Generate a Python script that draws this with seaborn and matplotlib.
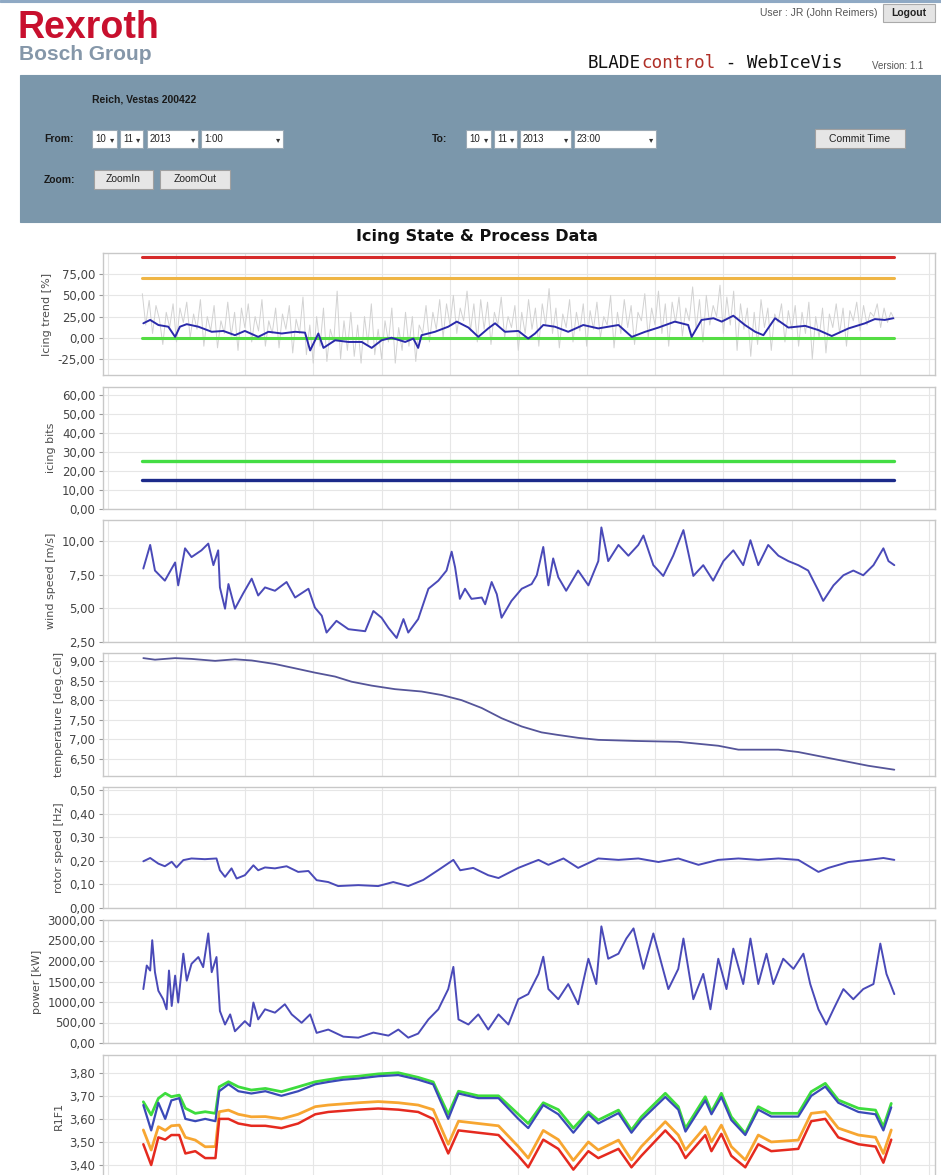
import numpy as np
import matplotlib
matplotlib.use("Agg")
import matplotlib.pyplot as plt
from matplotlib.patches import Rectangle
from matplotlib.ticker import FuncFormatter, MultipleLocator, FixedLocator
import seaborn as sns

# ---------------------------------------------------------------- data
# time in hours of 10.11.2013
ICING_T = [1.03, 1.23, 1.47, 1.76, 1.96, 2.10, 2.30, 2.64, 3.03, 3.37, 3.71, 4.00, 4.39, 4.69,
           5.08, 5.47, 5.76, 5.91, 6.15, 6.30, 6.64, 7.03, 7.42, 7.71, 8.00, 8.29, 8.69, 8.93,
           9.07, 9.17, 9.56, 9.95, 10.20, 10.54, 10.83, 11.12, 11.32, 11.61, 12.00, 12.29, 12.49,
           12.73, 13.07, 13.46, 13.90, 14.34, 14.93, 15.32, 15.71, 16.10, 16.58, 16.97, 17.07,
           17.36, 17.71, 17.95, 18.29, 18.63, 18.93, 19.17, 19.51, 19.90, 20.39, 20.78, 21.17,
           21.66, 22.14, 22.43, 22.72, 22.97]
ICING_TREND = [17, 21, 15, 13, 1, 13, 16, 13, 7, 8, 3, 8, 1, 7, 5, 7, 6, -15, 5, -12, -3, -5,
               -5, -12, -3, 0, -5, -1, -12, 3, 7, 13, 19, 12, 1, 11, 17, 7, 8, -1, 5, 15, 13, 7,
               15, 11, 15, 1, 7, 12, 19, 15, 1, 21, 23, 19, 26, 15, 7, 3, 23, 12, 14, 9, 2, 11,
               17, 22, 21, 23]
# raw icing signal, logged every 6 minutes
RAW_START, RAW_END, RAW_STEP = 1.0, 23.0, 0.1
ICING_RAW = [52, 15, 44, 5, 38, 22, -8, 30, 12, 40,
             -5, 35, 18, 42, 0, 28, 10, 45, -10, 25,
             8, 38, -12, 20, 5, 42, 2, 30, -15, 35,
             12, 40, -5, 25, 8, 45, -10, 20, 5, 35,
             -12, 28, 10, 38, -18, 22, 5, 48, -20, 15,
             -30, 25, -10, 35, -28, 10, -5, 55, -25, 20,
             -15, 30, -22, 15, -30, 25, -8, 40, -20, 10,
             -25, 20, -5, 35, -30, 12, -15, 30, -10, 25,
             -28, 15, 5, 38, -5, 30, 10, 45, 0, 40,
             15, 50, 5, 35, 20, 55, 8, 40, -5, 45,
             10, 42, -8, 30, 15, 48, 0, 25, 12, 38,
             -15, 30, 5, 45, 10, 35, -10, 40, 15, 58,
             5, 35, -12, 28, 12, 45, -5, 30, 8, 40,
             -10, 32, 10, 42, 0, 25, 15, 50, -12, 30,
             5, 45, 12, 38, -8, 30, 20, 52, 0, 35,
             15, 55, 5, 40, -10, 42, 18, 48, 2, 35,
             20, 60, 10, 45, -5, 50, 15, 38, 25, 62,
             5, 48, 15, 55, -15, 40, 10, 35, -22, 30,
             -8, 45, 12, 35, -15, 28, 18, 40, -5, 32,
             10, 38, -10, 30, 5, 42, -25, 25, 0, 35,
             -18, 28, 12, 40, 5, 35, -10, 32, 20, 42,
             8, 38, 15, 30, 25, 40, 12, 35, 18, 30,
             22]
LIMIT_T = [1.0, 23.0]
ALARM_LEVEL = 95
WARN_LEVEL = 70
NORMAL_LEVEL = 0
BIT_GREEN = 25
BIT_BLUE = 15

WIND_T = [1.03, 1.23, 1.37, 1.66, 1.96, 2.05, 2.25, 2.44, 2.73, 2.93, 3.08, 3.22, 3.27, 3.42,
          3.52, 3.71, 3.95, 4.20, 4.39, 4.59, 4.88, 5.22, 5.47, 5.86, 6.05, 6.25, 6.39, 6.68,
          7.03, 7.52, 7.76, 8.00, 8.20, 8.44, 8.64, 8.78, 9.07, 9.37, 9.66, 9.90, 10.05, 10.15,
          10.29, 10.44, 10.63, 10.93, 11.03, 11.22, 11.37, 11.51, 11.80, 12.10, 12.39, 12.54,
          12.73, 12.88, 13.02, 13.17, 13.40, 13.75, 14.05, 14.34, 14.43, 14.63, 14.93, 15.22,
          15.51, 15.66, 15.95, 16.24, 16.53, 16.83, 17.12, 17.41, 17.70, 18.00, 18.29, 18.58,
          18.79, 19.02, 19.31, 19.61, 19.90, 20.19, 20.48, 20.78, 20.92, 21.22, 21.51, 21.80,
          22.09, 22.39, 22.68, 22.83, 23.00]
WIND = [7.95, 9.7, 7.8, 7.05, 8.4, 6.7, 9.45, 8.8, 9.3, 9.8, 8.2, 9.3, 6.55, 4.97, 6.8, 4.97,
        6.1, 7.2, 5.95, 6.55, 6.3, 6.95, 5.8, 6.45, 5.05, 4.45, 3.2, 4.07, 3.45, 3.3, 4.8, 4.3,
        3.55, 2.8, 4.2, 3.2, 4.2, 6.45, 7.05, 7.8, 9.2, 8.05, 5.7, 6.45, 5.7, 5.8, 5.3, 6.95,
        6.05, 4.3, 5.55, 6.45, 6.8, 7.45, 9.55, 6.7, 8.7, 7.3, 6.3, 7.8, 6.7, 8.5, 11.0, 8.5,
        9.7, 8.9, 9.7, 10.4, 8.2, 7.4, 8.9, 10.8, 7.4, 8.2, 7.05, 8.5, 9.3, 8.2, 10.05, 8.2,
        9.7, 8.9, 8.5, 8.2, 7.8, 6.3, 5.55, 6.7, 7.45, 7.8, 7.45, 8.2, 9.45, 8.5, 8.2]

TEMP_T = [1.03, 1.37, 1.96, 2.44, 3.13, 3.71, 4.20, 4.88, 5.47, 6.05, 6.64, 7.12, 7.71, 8.39,
          9.17, 9.76, 10.34, 10.93, 11.51, 12.10, 12.68, 13.12, 13.76, 14.34, 15.51, 16.68,
          17.85, 18.44, 19.61, 20.19, 21.36, 22.24, 23.00]
TEMP = [9.07, 9.03, 9.07, 9.05, 9.00, 9.04, 9.01, 8.92, 8.81, 8.70, 8.60, 8.47, 8.37, 8.28,
        8.22, 8.13, 8.00, 7.80, 7.54, 7.33, 7.18, 7.12, 7.04, 6.99, 6.96, 6.94, 6.84, 6.74,
        6.74, 6.68, 6.48, 6.33, 6.23]

ROTOR_T = [1.03, 1.23, 1.47, 1.66, 1.86, 2.00, 2.20, 2.44, 2.83, 3.17, 3.27, 3.42, 3.61, 3.76,
           4.00, 4.25, 4.39, 4.59, 4.88, 5.22, 5.56, 5.86, 6.10, 6.44, 6.73, 7.32, 7.90, 8.34,
           8.78, 9.22, 9.66, 10.10, 10.30, 10.68, 11.12, 11.42, 12.00, 12.59, 12.88, 13.32,
           13.75, 14.34, 14.93, 15.51, 16.10, 16.68, 17.27, 17.85, 18.44, 19.02, 19.61, 20.19,
           20.78, 21.07, 21.66, 22.24, 22.68, 23.00]
ROTOR = [0.198, 0.212, 0.188, 0.177, 0.196, 0.172, 0.203, 0.21, 0.207, 0.21, 0.16, 0.132,
         0.168, 0.125, 0.139, 0.181, 0.16, 0.172, 0.168, 0.177, 0.153, 0.157, 0.118, 0.11,
         0.093, 0.097, 0.093, 0.11, 0.093, 0.119, 0.161, 0.204, 0.16, 0.17, 0.139, 0.127,
         0.17, 0.204, 0.183, 0.21, 0.17, 0.21, 0.204, 0.21, 0.195, 0.21, 0.183, 0.204, 0.21,
         0.204, 0.21, 0.204, 0.153, 0.17, 0.195, 0.204, 0.212, 0.204]

POWER_T = [1.03, 1.13, 1.23, 1.29, 1.37, 1.47, 1.61, 1.71, 1.78, 1.86, 1.96, 2.05, 2.20, 2.30,
           2.44, 2.64, 2.78, 2.93, 3.03, 3.17, 3.27, 3.42, 3.57, 3.71, 4.00, 4.15, 4.25, 4.39,
           4.59, 4.88, 5.17, 5.37, 5.66, 5.91, 6.10, 6.44, 6.88, 7.32, 7.76, 8.20, 8.49, 8.78,
           9.07, 9.37, 9.66, 9.95, 10.10, 10.25, 10.54, 10.83, 11.12, 11.42, 11.71, 12.00, 12.29,
           12.59, 12.73, 12.88, 13.17, 13.46, 13.75, 14.05, 14.28, 14.43, 14.63, 14.93, 15.16,
           15.37, 15.66, 15.95, 16.15, 16.39, 16.68, 16.83, 17.12, 17.41, 17.62, 17.85, 18.09,
           18.29, 18.58, 18.79, 19.02, 19.26, 19.46, 19.75, 20.05, 20.34, 20.54, 20.78, 21.01,
           21.22, 21.51, 21.80, 22.09, 22.39, 22.59, 22.77, 23.00]
POWER = [1315, 1890, 1767, 2507, 1727, 1273, 1068, 822, 1767, 903, 1643, 987, 2178, 1520, 1932,
         2097, 1850, 2672, 1727, 2097, 780, 451, 698, 286, 533, 410, 987, 575, 822, 740, 945,
         698, 493, 698, 247, 328, 155, 130, 254, 180, 328, 130, 230, 575, 822, 1315, 1857, 575,
         451, 698, 328, 698, 451, 1068, 1192, 1685, 2104, 1315, 1068, 1438, 945, 2055, 1438,
         2845, 2055, 2178, 2548, 2795, 1808, 2672, 2055, 1315, 1808, 2548, 1068, 1685, 822,
         2055, 1315, 2302, 1438, 2548, 1438, 2178, 1438, 2055, 1808, 2178, 1438, 822, 451, 822,
         1315, 1068, 1315, 1438, 2425, 1685, 1192]

R1F1_T = [1.03, 1.26, 1.47, 1.67, 1.85, 2.08, 2.26, 2.55, 2.84, 3.14, 3.25, 3.52, 3.81, 4.19,
          4.60, 5.07, 5.56, 6.06, 6.44, 6.88, 7.32, 7.90, 8.49, 9.07, 9.51, 9.95, 10.25, 10.83,
          11.42, 12.00, 12.29, 12.73, 13.17, 13.61, 14.05, 14.34, 14.93, 15.31, 15.60, 16.30,
          16.68, 16.89, 17.47, 17.65, 17.94, 18.23, 18.64, 19.02, 19.40, 20.19, 20.57, 20.98,
          21.36, 21.95, 22.45, 22.68, 22.91]
R1F1_GREEN = [3.674, 3.617, 3.689, 3.711, 3.696, 3.703, 3.646, 3.624, 3.631, 3.624, 3.739,
              3.761, 3.739, 3.725, 3.732, 3.718, 3.739, 3.761, 3.77, 3.78, 3.785, 3.795, 3.80,
              3.78, 3.76, 3.62, 3.72, 3.70, 3.70, 3.62, 3.58, 3.67, 3.64, 3.56, 3.63, 3.595,
              3.638, 3.552, 3.609, 3.711, 3.653, 3.559, 3.696, 3.631, 3.711, 3.609, 3.537, 3.653,
              3.624, 3.624, 3.718, 3.754, 3.682, 3.646, 3.638, 3.566, 3.667]
R1F1_BLUE = [3.66, 3.55, 3.67, 3.60, 3.68, 3.69, 3.60, 3.59, 3.60, 3.59, 3.72, 3.75, 3.72, 3.71,
             3.72, 3.70, 3.72, 3.75, 3.76, 3.77, 3.775, 3.785, 3.79, 3.77, 3.75, 3.60, 3.71,
             3.69, 3.69, 3.60, 3.56, 3.66, 3.62, 3.54, 3.62, 3.58, 3.625, 3.54, 3.595, 3.695,
             3.64, 3.545, 3.68, 3.62, 3.695, 3.595, 3.53, 3.64, 3.61, 3.61, 3.70, 3.74, 3.67,
             3.63, 3.62, 3.55, 3.65]
R1F1_ORANGE = [3.552, 3.465, 3.566, 3.55, 3.57, 3.573, 3.52, 3.508, 3.479, 3.48, 3.631, 3.638,
               3.62, 3.609, 3.61, 3.60, 3.62, 3.653, 3.66, 3.665, 3.67, 3.675, 3.67, 3.66, 3.64,
               3.49, 3.59, 3.58, 3.57, 3.48, 3.43, 3.55, 3.51, 3.42, 3.50, 3.465, 3.508, 3.422,
               3.48, 3.588, 3.53, 3.465, 3.566, 3.50, 3.573, 3.48, 3.422, 3.53, 3.50, 3.508,
               3.624, 3.631, 3.56, 3.53, 3.52, 3.45, 3.552]
R1F1_RED = [3.49, 3.40, 3.52, 3.51, 3.53, 3.53, 3.45, 3.46, 3.43, 3.43, 3.60, 3.60, 3.58, 3.57,
            3.57, 3.56, 3.58, 3.62, 3.63, 3.635, 3.64, 3.645, 3.64, 3.63, 3.60, 3.45, 3.55,
            3.54, 3.53, 3.44, 3.39, 3.51, 3.47, 3.38, 3.46, 3.43, 3.47, 3.39, 3.44, 3.55, 3.49,
            3.43, 3.53, 3.46, 3.535, 3.44, 3.39, 3.49, 3.46, 3.47, 3.59, 3.60, 3.52, 3.49, 3.48,
            3.41, 3.51]

PANEL_LABELS = ["Icing trend [%]", "icing bits", "wind speed [m/s]", "temperature [deg.Cel]",
                "rotor speed [Hz]", "power [kW]", "R1F1"]
PANEL_TICKS = [[-25, 0, 25, 50, 75],
               [0, 10, 20, 30, 40, 50, 60],
               [2.5, 5.0, 7.5, 10.0],
               [6.5, 7.0, 7.5, 8.0, 8.5, 9.0],
               [0.0, 0.1, 0.2, 0.3, 0.4, 0.5],
               [0, 500, 1000, 1500, 2000, 2500, 3000],
               [3.4, 3.5, 3.6, 3.7, 3.8]]

# ---------------------------------------------------------------- styling
sns.set_theme(style="white")
plt.rcParams["font.family"] = ["DejaVu Sans"]

W, H = 941, 1175
fig = plt.figure(figsize=(W / 100, H / 100), dpi=100)
fig.patch.set_facecolor("white")


def fx(x):
    return x / W


def fy(y):
    return 1 - y / H


def rect(x0, y0, x1, y1, face, edge=None, lw=0.8, z=1):
    fig.add_artist(Rectangle((fx(x0), fy(y1)), (x1 - x0) / W, (y1 - y0) / H,
                             transform=fig.transFigure, facecolor=face,
                             edgecolor=edge if edge else face, linewidth=lw, zorder=z))


def text(x, y, s, size=8, color="#222222", weight="normal", ha="left", va="center",
         family="Liberation Sans", z=3):
    fig.text(fx(x), fy(y), s, fontsize=size, color=color, fontweight=weight, ha=ha, va=va,
             family=family, zorder=z)


# ---------------------------------------------------------------- page header
rect(0, 0, 941, 2, "#8fa9c4")
text(18, 38, "Rexroth", size=27, color="#c8102e", weight="bold", va="baseline")
text(19, 60, "Bosch Group", size=15, color="#8597a9", weight="bold", va="baseline")
text(877, 13, "User : JR (John Reimers)", size=7.5, color="#555555", ha="right")
rect(883, 4, 935, 22, "#e4e4e4", "#aaaaaa")
text(909, 13, "Logout", size=7.5, color="#222222", weight="bold", ha="center")

mono = "DejaVu Sans Mono"
cw = 12.7 * 100 / 72 * 0.602
text(588, 63, "BLADE", size=12.7, color="#111111", family=mono)
text(588 + 5 * cw, 63, "control", size=12.7, color="#b03028", family=mono)
text(588 + 12 * cw, 63, " - WebIceVis", size=12.7, color="#111111", family=mono)
text(872, 66, "Version: 1.1", size=7, color="#555555")

# control panel
rect(20, 75, 941, 222, "#7b97ab")
text(92, 100, "Reich, Vestas 200422", size=7.5, color="#1a1a1a", weight="bold")
text(44, 139, "From:", size=7.5, color="#1a1a1a", weight="bold")
text(432, 139, "To:", size=7.5, color="#1a1a1a", weight="bold")
text(44, 180, "Zoom:", size=7.5, color="#1a1a1a", weight="bold")
for x0, x1, s in [(92, 117, "10"), (120, 143, "11"), (147, 198, "2013"), (201, 283, "1:00"),
                  (466, 491, "10"), (494, 517, "11"), (520, 571, "2013"), (574, 656, "23:00")]:
    rect(x0, 130, x1, 148, "white", "#9aa9b5")
    text(x0 + 3, 139, s, size=7, color="#222222")
    text(x1 - 5, 139.5, "\u25be", size=6, color="#333333", ha="center", family="DejaVu Sans")
for x0, x1, y0, y1, s in [(815, 905, 129, 148, "Commit Time"), (94, 153, 170, 189, "ZoomIn"),
                          (160, 230, 170, 189, "ZoomOut")]:
    rect(x0, y0, x1, y1, "#e6e6e6", "#a0a0a0")
    text((x0 + x1) / 2, (y0 + y1) / 2, s, size=7.5, color="#222222", ha="center")

text(477, 236, "Icing State & Process Data", size=11.5, color="#111111", weight="bold",
     ha="center", family="DejaVu Sans")

# ---------------------------------------------------------------- chart panels
panels = [(253, 375), (387, 509), (520, 642), (653, 776), (787, 908), (920, 1043), (1055, 1177)]
ylims = [(-44, 100), (0, 64.2), (2.5, 11.55), (6.07, 9.2), (0, 0.513), (0, 3000), (3.348, 3.877)]
comma = FuncFormatter(lambda v, _: f"{v:.2f}".replace(".", ","))

axes = []
for (top, bot), lim, ticks, lab in zip(panels, ylims, PANEL_TICKS, PANEL_LABELS):
    ax = fig.add_axes([fx(103), fy(bot), (935 - 103) / W, (bot - top) / H])
    ax.set_facecolor("white")
    ax.set_xlim(-0.15, 24.19)
    ax.set_ylim(*lim)
    ax.xaxis.set_major_locator(MultipleLocator(2))
    ax.yaxis.set_major_locator(FixedLocator(ticks))
    ax.yaxis.set_major_formatter(comma)
    ax.tick_params(axis="x", length=0, labelbottom=False)
    ax.tick_params(axis="y", length=3, width=0.8, color="#999999", pad=2.5, labelsize=8.5,
                   labelcolor="#444444", left=True)
    ax.grid(True, color="#e6e6e6", linewidth=0.8)
    for sp in ax.spines.values():
        sp.set_color("#c8c8c8")
        sp.set_linewidth(1.0)
    ax.set_ylabel(lab, fontsize=8, color="#4d4d4d", labelpad=4)
    axes.append(ax)

proc_color = "#4a4ab8"

# icing trend
ax = axes[0]
raw_t = np.round(np.arange(RAW_START, RAW_END + RAW_STEP / 2, RAW_STEP), 2)
sns.lineplot(x=raw_t, y=ICING_RAW, ax=ax, color="#d2d2d2", linewidth=0.7)
sns.lineplot(x=LIMIT_T, y=[ALARM_LEVEL] * 2, ax=ax, color="#d62a2a", linewidth=2.2)
sns.lineplot(x=LIMIT_T, y=[WARN_LEVEL] * 2, ax=ax, color="#efb545", linewidth=2.2)
sns.lineplot(x=LIMIT_T, y=[NORMAL_LEVEL] * 2, ax=ax, color="#55dd44", linewidth=2.2)
sns.lineplot(x=ICING_T, y=ICING_TREND, ax=ax, color="#2a2aaa", linewidth=1.4)

# icing bits
ax = axes[1]
sns.lineplot(x=LIMIT_T, y=[BIT_GREEN] * 2, ax=ax, color="#44dd44", linewidth=2.4)
sns.lineplot(x=LIMIT_T, y=[BIT_BLUE] * 2, ax=ax, color="#1c2a8a", linewidth=2.4)

# process data
sns.lineplot(x=WIND_T, y=WIND, ax=axes[2], color=proc_color, linewidth=1.4)
sns.lineplot(x=TEMP_T, y=TEMP, ax=axes[3], color="#555599", linewidth=1.3)
sns.lineplot(x=ROTOR_T, y=ROTOR, ax=axes[4], color=proc_color, linewidth=1.4)
sns.lineplot(x=POWER_T, y=POWER, ax=axes[5], color=proc_color, linewidth=1.4)

# R1F1 blade frequencies
ax = axes[6]
sns.lineplot(x=R1F1_T, y=R1F1_GREEN, ax=ax, color="#3ddc3d", linewidth=2.0)
sns.lineplot(x=R1F1_T, y=R1F1_BLUE, ax=ax, color="#3a4ab8", linewidth=1.6)
sns.lineplot(x=R1F1_T, y=R1F1_ORANGE, ax=ax, color="#f7a631", linewidth=2.0)
sns.lineplot(x=R1F1_T, y=R1F1_RED, ax=ax, color="#e52a1f", linewidth=1.8)

for ax in axes:
    ax.set_xlabel("")
    if ax.get_legend():
        ax.get_legend().remove()

fig.savefig("out.png", dpi=100, facecolor="white")
